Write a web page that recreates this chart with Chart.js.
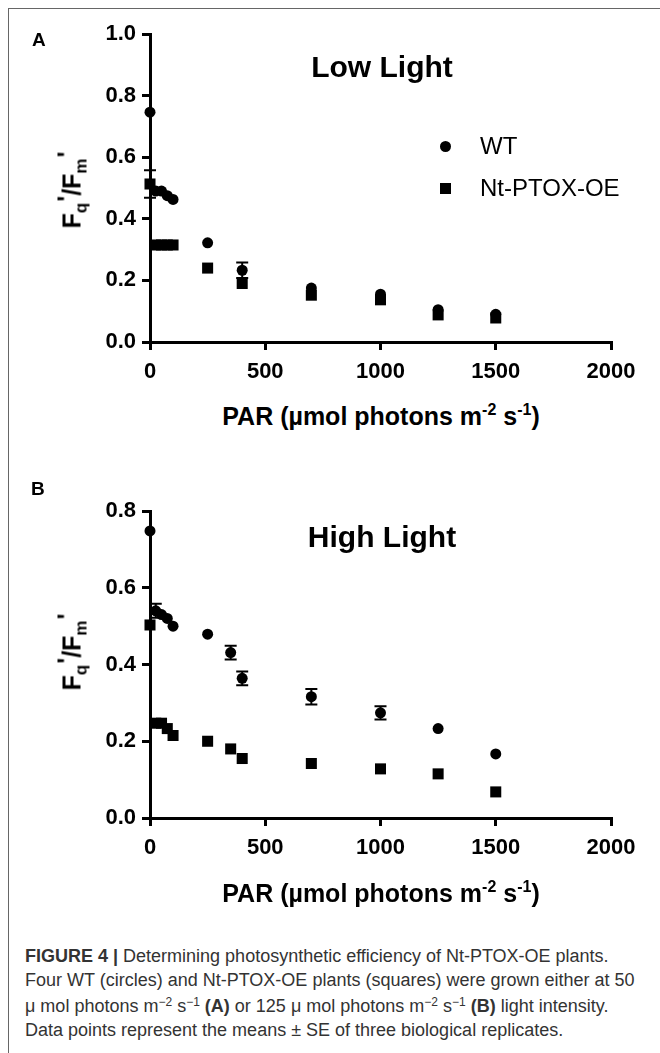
<!DOCTYPE html>
<html>
<head>
<meta charset="utf-8">
<script src="https://cdn.jsdelivr.net/npm/chart.js@4.4.1/dist/chart.umd.min.js"></script>
<style>
  body { margin: 0; width: 660px; height: 1053px; overflow: hidden; background: #fff; position: relative;
         font-family: "Liberation Sans", Arial, sans-serif; color: #000; }
  .frame { position: absolute; left: 8px; top: 8px; width: 700px; height: 1100px; border: 1px solid #666; }
  canvas { position: absolute; left: 0; }
  .abs { position: absolute; white-space: nowrap; }
  .panel { font-weight: bold; font-size: 19px; }
  .title { font-weight: bold; font-size: 30px; transform: translateX(-50%); }
  .xtitle { font-weight: bold; font-size: 25px; transform: translateX(-50%); }
  .xtitle sup { font-size: 16px; vertical-align: 10px; }
  .ytitle { font-weight: bold; font-size: 25px; transform: translate(-50%, -50%) rotate(-90deg); }
  .ytitle .s { font-size: 17px; position: relative; top: 6px; }
  .ytitle .p { position: relative; top: -5px; margin-left: 1px; }
  .leg { font-size: 24px; }
  .dot { position: absolute; width: 11px; height: 11px; background: #000; }
  .cap { font-size: 18px; color: #333; left: 25px; }
  .cap sup { font-size: 12px; vertical-align: 6px; }
</style>
</head>
<body>
<div class="frame"></div>
<canvas id="chartA" width="660" height="400" style="top:0"></canvas>
<canvas id="chartB" width="660" height="420" style="top:470px"></canvas>

<div class="abs panel" style="left:32px;top:29px">A</div>
<div class="abs panel" style="left:31px;top:478px">B</div>

<div class="abs title" style="left:382px;top:50px">Low Light</div>
<div class="abs title" style="left:382px;top:520px">High Light</div>

<div class="dot" style="left:440px;top:141px;border-radius:50%"></div>
<div class="abs leg" style="left:480px;top:132px">WT</div>
<div class="dot" style="left:440px;top:183px"></div>
<div class="abs leg" style="left:480px;top:174px">Nt-PTOX-OE</div>

<div class="abs ytitle" style="left:72px;top:190px">F<span class="s">q</span><span class="p">'</span>/F<span class="s">m</span><span class="p">'</span></div>
<div class="abs ytitle" style="left:72px;top:652px">F<span class="s">q</span><span class="p">'</span>/F<span class="s">m</span><span class="p">'</span></div>

<div class="abs xtitle" style="left:381px;top:401px">PAR (µmol photons m<sup>-2</sup> s<sup>-1</sup>)</div>
<div class="abs xtitle" style="left:381px;top:878px">PAR (µmol photons m<sup>-2</sup> s<sup>-1</sup>)</div>

<div class="abs cap" style="top:946px"><b>FIGURE 4 |</b> Determining photosynthetic efficiency of Nt-PTOX-OE plants.</div>
<div class="abs cap" style="top:970px">Four WT (circles) and Nt-PTOX-OE plants (squares) were grown either at 50</div>
<div class="abs cap" style="top:995px">μ mol photons m<sup>−2</sup> s<sup>−1</sup> <b>(A)</b> or 125 μ mol photons m<sup>−2</sup> s<sup>−1</sup> <b>(B)</b> light intensity.</div>
<div class="abs cap" style="top:1020px">Data points represent the means ± SE of three biological replicates.</div>

<script>
"use strict";

// PAR levels (µmol photons m-2 s-1)
const parLow = [0, 25, 50, 75, 100, 250, 400, 700, 1000, 1250, 1500];
const parHigh = [0, 25, 50, 75, 100, 250, 350, 400, 700, 1000, 1250, 1500];

// Fq'/Fm' means and SE, low light plants (A)
const wtLow = [0.746, 0.49, 0.49, 0.475, 0.463, 0.322, 0.233, 0.175, 0.155, 0.105, 0.09];
const wtLowErr = [0, 0, 0, 0, 0, 0, 0.025, 0, 0, 0, 0];
const oeLow = [0.513, 0.315, 0.315, 0.315, 0.315, 0.24, 0.19, 0.152, 0.137, 0.088, 0.078];
const oeLowErr = [0.045, 0, 0, 0, 0, 0, 0, 0, 0, 0, 0];

// Fq'/Fm' means and SE, high light plants (B)
const wtHigh = [0.748, 0.54, 0.53, 0.52, 0.50, 0.479, 0.431, 0.364, 0.316, 0.274, 0.233, 0.167];
const wtHighErr = [0, 0.018, 0, 0, 0, 0, 0.018, 0.018, 0.02, 0.017, 0, 0];
const oeHigh = [0.503, 0.247, 0.247, 0.233, 0.215, 0.2, 0.18, 0.155, 0.142, 0.128, 0.115, 0.068];
const oeHighErr = [0, 0, 0, 0, 0, 0, 0, 0, 0, 0, 0, 0];

const xTicks = [0, 500, 1000, 1500, 2000];

// SE bars; the ones smaller than the symbol are hidden behind it anyway
const errorBars = {
    id: 'errorBars',
    afterDatasetsDraw(chart) {
        const ctx = chart.ctx;
        const xs = chart.scales.x, ys = chart.scales.y;
        ctx.save();
        ctx.strokeStyle = '#000';
        ctx.lineWidth = 2;
        chart.data.datasets.forEach(ds => {
            ds.data.forEach((p, i) => {
                const e = ds.errors[i];
                if (!e) return;
                const x = xs.getPixelForValue(p.x);
                const yTop = ys.getPixelForValue(p.y + e);
                const yBot = ys.getPixelForValue(p.y - e);
                ctx.beginPath();
                ctx.moveTo(x, yTop); ctx.lineTo(x, yBot);
                ctx.moveTo(x - 6, yTop); ctx.lineTo(x + 6, yTop);
                ctx.moveTo(x - 6, yBot); ctx.lineTo(x + 6, yBot);
                ctx.stroke();
            });
        });
        ctx.restore();
    }
};

function points(xs, ys) {
    return xs.map((x, i) => ({ x: x, y: ys[i] }));
}

function makeChart(id, par, wt, wtErr, oe, oeErr, yMax, padTop, xHeight) {
    const tickFont = { family: 'Liberation Sans', size: 22, weight: 'bold' };
    return new Chart(document.getElementById(id), {
        type: 'scatter',
        data: {
            datasets: [{
                label: 'WT',
                data: points(par, wt),
                errors: wtErr,
                pointStyle: 'circle',
                pointRadius: 5.5,
                backgroundColor: '#000',
                borderWidth: 0,
                clip: false
            }, {
                label: 'Nt-PTOX-OE',
                data: points(par, oe),
                errors: oeErr,
                pointStyle: 'rect',
                pointRadius: 7.8,
                backgroundColor: '#000',
                borderWidth: 0,
                clip: false
            }]
        },
        options: {
            responsive: false,
            animation: false,
            events: [],
            layout: { padding: { top: padTop, right: 49, left: 0, bottom: 0 } },
            plugins: { legend: { display: false }, tooltip: { enabled: false } },
            scales: {
                x: {
                    type: 'linear', min: 0, max: 2000,
                    afterBuildTicks: s => { s.ticks = xTicks.map(v => ({ value: v })); },
                    afterFit: s => { s.height = xHeight; },
                    ticks: { font: tickFont, color: '#000', padding: 9, maxRotation: 0,
                             callback: v => String(v) },
                    grid: { drawOnChartArea: false, color: '#000', tickLength: 8, tickWidth: 3, lineWidth: 3 },
                    border: { color: '#000', width: 3 }
                },
                y: {
                    min: 0, max: yMax,
                    ticks: { stepSize: 0.2, font: tickFont, color: '#000', padding: 6,
                             callback: v => v.toFixed(1) },
                    afterFit: s => { s.width = 150; },
                    grid: { drawOnChartArea: false, color: '#000', tickLength: 8, tickWidth: 3, lineWidth: 3 },
                    border: { color: '#000', width: 3 }
                }
            }
        },
        plugins: [errorBars]
    });
}

makeChart('chartA', parLow, wtLow, wtLowErr, oeLow, oeLowErr, 1.0, 34, 58);
makeChart('chartB', parHigh, wtHigh, wtHighErr, oeHigh, oeHighErr, 0.8, 41, 72);
</script>
</body>
</html>
